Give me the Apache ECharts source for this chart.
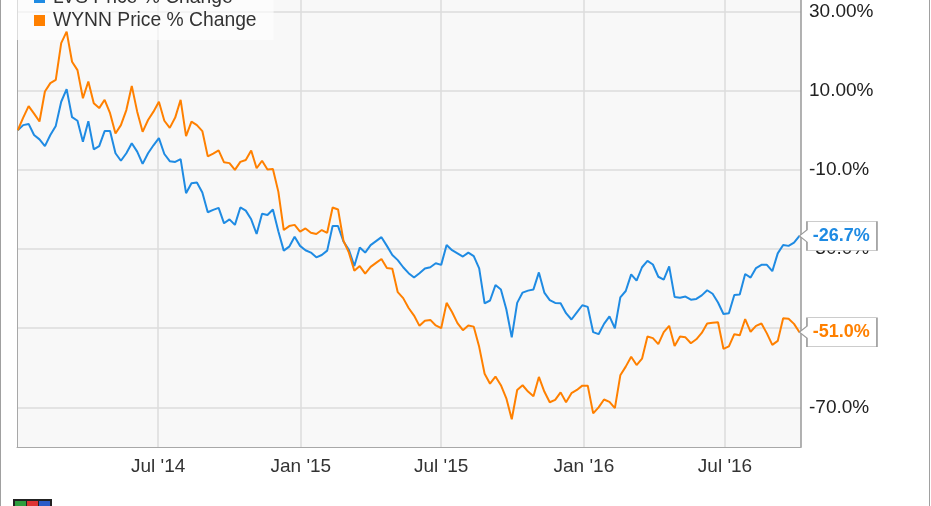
<!DOCTYPE html>
<html>
<head>
<meta charset="utf-8">
<script src="https://cdn.jsdelivr.net/npm/echarts@6/dist/echarts.min.js"></script>
<style>
html,body{margin:0;padding:0;background:#fff;}
#c{width:931px;height:506px;}
</style>
</head>
<body>
<div id="c"></div>
<script>
// ---------- data ----------
const seriesNames = ['LVS Price % Change', 'WYNN Price % Change'];
const firstWeek = '2014-01-01';   // weekly observations start here
const lvsPct = [
  0, 1.3, 1.6, -1.2, -2.3, -4.0, -1.2, 1.1, 7.2, 10.4,
  3.3, 2.4, -2.9, 2.3, -4.8, -4.0, -0.2, -0.2, -5.8, -7.7,
  -5.8, -3.3, -5.4, -8.5, -5.8, -3.8, -2.0, -6.0, -7.8, -8.0,
  -7.3, -15.9, -13.4, -13.2, -15.7, -20.7, -20.1, -19.6, -23.5, -22.5,
  -23.9, -19.5, -20.3, -22.5, -26.2, -21.1, -21.4, -20.0, -25.5, -30.4,
  -29.4, -26.9, -29.2, -30.3, -30.9, -32.1, -31.5, -30.4, -24.2, -24.2,
  -28.1, -30.2, -34.3, -29.6, -30.9, -29.0, -28.0, -27.0, -29.2, -31.5,
  -32.8, -34.6, -36.1, -37.2, -36.1, -34.9, -34.6, -33.6, -34.0, -29.0,
  -30.3, -31.1, -31.9, -30.9, -31.8, -34.9, -43.7, -43.0, -39.1, -40.2,
  -45.2, -52.3, -43.6, -41.0, -40.5, -40.2, -35.9, -41.0, -42.9, -43.6,
  -43.7, -46.2, -47.8, -46.0, -44.2, -44.6, -51.0, -51.5, -48.9, -47.0,
  -50.0, -42.2, -40.6, -36.4, -38.0, -34.6, -33.0, -33.9, -37.0, -37.7,
  -34.4, -42.1, -42.3, -42.0, -42.8, -42.6, -41.7, -40.4, -41.3, -43.5,
  -46.4, -46.2, -41.6, -41.5, -36.3, -37.2, -34.8, -34.0, -34.0, -35.6,
  -31.1, -29.0, -29.2, -28.4, -26.7
];
const wynnPct = [
  0, 3.2, 6.1, 4.2, 2.2, 9.8, 11.9, 12.7, 22.0, 24.9,
  17.3, 15.2, 8.1, 12.3, 6.8, 5.6, 7.7, 4.3, -0.8, 1.3,
  5.1, 11.2, 4.7, -0.4, 2.6, 4.7, 7.2, 2.4, 0.6, 3.2,
  7.7, -1.5, 2.2, 1.3, -0.2, -6.6, -5.9, -5.1, -8.1, -8.3,
  -10.0, -8.0, -7.5, -5.1, -9.6, -7.7, -9.9, -9.8, -15.5, -25.2,
  -24.2, -23.9, -25.6, -24.8, -25.9, -26.2, -25.2, -25.9, -19.5, -20.0,
  -27.9, -30.9, -35.5, -34.3, -36.2, -34.5, -33.5, -32.5, -34.8, -35.0,
  -40.9, -42.4, -44.9, -46.8, -49.4, -48.1, -47.9, -49.3, -50.0, -43.6,
  -45.9, -48.7, -50.5, -49.3, -49.6, -54.7, -61.5, -64.0, -62.2, -64.4,
  -67.7, -73.0, -65.6, -64.4, -66.0, -67.2, -62.3, -66.0, -68.7, -68.1,
  -66.2, -68.7, -66.4, -65.6, -64.5, -64.5, -71.5, -70.0, -68.0, -68.6,
  -70.2, -61.9, -59.7, -57.2, -59.3, -57.7, -52.1, -52.5, -54.0, -51.0,
  -49.4, -54.5, -52.1, -52.3, -53.8, -52.8, -51.2, -48.8, -48.6, -48.5,
  -55.2, -54.6, -51.5, -51.8, -47.7, -50.9, -49.4, -48.8, -51.3, -54.2,
  -53.2, -47.5, -47.6, -48.9, -51.0
];
const yTickValues = [-70, -50, -30, -10, 10, 30];
const yTickLabels = ['-70.0%', '-50.0%', '-30.0%', '-10.0%', '10.00%', '30.00%'];
const xTickDates = ['2014-07-01', '2015-01-01', '2015-07-01', '2016-01-01', '2016-07-01'];
const xTickLabels = ["Jul '14", "Jan '15", "Jul '15", "Jan '16", "Jul '16"];
const xMin = '2013-12-31', xMax = '2016-10-07';
const yMin = -80, yMax = 32.9;   // visible part of the value range

// ---------- build ----------
const FONT = '"Liberation Sans", Arial, Helvetica, sans-serif';
const COLORS = ['#1f8be3', '#ff8000'];
const DAY = 86400000;
const ts = s => Date.parse(s + 'T00:00:00Z');
const t0 = ts(firstWeek);
const dates = lvsPct.map((_, i) => t0 + i * 7 * DAY);
const xTickTs = xTickDates.map(ts);
const valuesList = [lvsPct, wynnPct];

const CALLOUT = 'path://M0,14.5L7.5,8.5L7.5,0L77.5,0L77.5,29L7.5,29L7.5,20.5Z';

const series = valuesList.map((vals, si) => {
  const last = vals.length - 1;
  return {
    name: seriesNames[si],
    type: 'line',
    data: vals.map((v, i) => [dates[i], v]),
    showSymbol: false,
    symbol: 'none',
    lineStyle: { width: 2, color: COLORS[si] },
    itemStyle: { color: COLORS[si] },
    z: 3 + si,
    markPoint: {
      silent: true,
      animation: false,
      symbol: CALLOUT,
      symbolSize: [77.5, 29],
      symbolOffset: [38.75, 0],
      symbolKeepAspect: false,
      itemStyle: { color: '#ffffff', borderColor: '#9a9a9a', borderWidth: 1 },
      label: {
        show: true, position: 'inside', offset: [3, 0],
        color: COLORS[si], fontWeight: 'bold', fontSize: 18, fontFamily: FONT,
        formatter: p => p.value.toFixed(1) + '%'
      },
      data: [{ coord: [dates[last], vals[last]], value: vals[last] }]
    }
  };
});

const chart = echarts.init(document.getElementById('c'), null, { renderer: 'canvas' });
chart.setOption({
  animation: false,
  backgroundColor: '#ffffff',
  color: COLORS,
  grid: {
    left: 17, right: 130, top: 0, bottom: 59,
    show: true, backgroundColor: '#f8f8f8', borderWidth: 0
  },
  legend: {
    orient: 'vertical', left: 17, top: -17,
    padding: [5, 17, 10, 17], itemGap: 4,
    itemWidth: 11, itemHeight: 11, icon: 'rect',
    backgroundColor: 'rgba(255,255,255,0.6)',
    textStyle: { fontSize: 19.3, color: '#333', fontFamily: FONT, lineHeight: 19, padding: [0, 0, 0, 3] },
    data: seriesNames
  },
  xAxis: {
    type: 'value', min: ts(xMin), max: ts(xMax),
    axisLine: { show: true, onZero: false, lineStyle: { color: '#a8a8a8' } },
    axisTick: { show: false, customValues: xTickTs },
    axisLabel: {
      customValues: xTickTs, margin: 10, color: '#333', fontSize: 19, fontFamily: FONT,
      formatter: v => { const i = xTickTs.indexOf(v); return i >= 0 ? xTickLabels[i] : ''; }
    },
    splitLine: { show: true, lineStyle: { color: '#dcdcdc', width: 1.5 } }
  },
  yAxis: [{
    type: 'value', position: 'right', min: yMin, max: yMax,
    axisLine: { show: true, onZero: false, lineStyle: { color: '#999', width: 1.5 } },
    axisTick: { show: false, customValues: yTickValues },
    axisLabel: {
      customValues: yTickValues, margin: 8, color: '#222', fontSize: 19, fontFamily: FONT,
      formatter: v => { const i = yTickValues.indexOf(v); return i >= 0 ? yTickLabels[i] : ''; }
    },
    splitLine: { show: true, lineStyle: { color: '#dcdcdc', width: 1.5 } }
  }, {
    type: 'value', position: 'left', min: yMin, max: yMax,
    axisLine: { show: true, onZero: false, lineStyle: { color: '#a8a8a8', width: 1 } },
    axisTick: { show: false }, axisLabel: { show: false }, splitLine: { show: false }
  }],
  graphic: [
    { type: 'line', shape: { x1: 0.5, y1: 0, x2: 0.5, y2: 506 }, style: { stroke: '#a0a0a0', lineWidth: 1 }, silent: true },
    { type: 'line', shape: { x1: 929.5, y1: 0, x2: 929.5, y2: 506 }, style: { stroke: '#a0a0a0', lineWidth: 1 }, silent: true },
    { type: 'group', left: 13, top: 499, silent: true, children: [
      { type: 'rect', shape: { x: 0, y: 0, width: 39, height: 8 }, style: { fill: '#222' } },
      { type: 'rect', shape: { x: 2, y: 2, width: 11, height: 6 }, style: { fill: '#2e9e3e' } },
      { type: 'rect', shape: { x: 14, y: 2, width: 11, height: 6 }, style: { fill: '#d33' } },
      { type: 'rect', shape: { x: 26, y: 2, width: 11, height: 6 }, style: { fill: '#2a5bc8' } }
    ]}
  ],
  series: series
});
</script>
</body>
</html>
